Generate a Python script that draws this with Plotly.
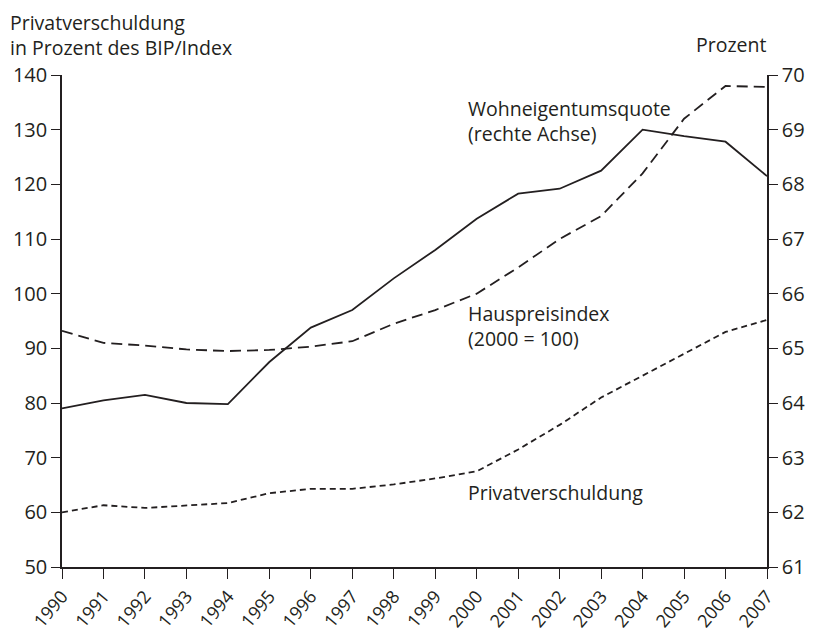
import plotly.graph_objects as go

years = list(range(1990, 2008))
wohneigentumsquote = [63.9, 64.05, 64.15, 64.0, 63.98, 64.75, 65.38, 65.7, 66.28, 66.8,
                      67.37, 67.83, 67.92, 68.25, 69.0, 68.88, 68.78, 68.15]
hauspreisindex = [93.2, 91.0, 90.5, 89.8, 89.5, 89.7, 90.3, 91.3, 94.5, 97.0,
                  100.0, 104.8, 110.0, 114.2, 122.0, 132.0, 138.0, 137.8]
privatverschuldung = [60.0, 61.3, 60.8, 61.2, 61.7, 63.5, 64.3, 64.3, 65.1, 66.2,
                      67.5, 71.5, 76.0, 81.0, 85.0, 89.0, 93.0, 95.2]

left_ticks = list(range(50, 141, 10))
right_ticks = list(range(61, 71))

FONT = "Open Sans, Noto Sans, sans-serif"
ink = "#231f20"
TXT = 19.5
TICK = 20

# page has 8px body margin; plot area target: x 62..767, y 75..567
OFF = 8
W, H = 813 - OFF, 632 - OFF
L, R, T, B = 62 - OFF, 813 - 767, 75 - OFF, 632 - 567
PW, PH = 767 - 62, 567 - 75

fig = go.Figure()
fig.add_trace(go.Scatter(x=years, y=hauspreisindex, mode="lines",
                         line=dict(color=ink, width=1.8, dash="11px,6px"), yaxis="y"))
fig.add_trace(go.Scatter(x=years, y=privatverschuldung, mode="lines",
                         line=dict(color=ink, width=1.8, dash="6px,4px"), yaxis="y"))
fig.add_trace(go.Scatter(x=years, y=wohneigentumsquote, mode="lines",
                         line=dict(color=ink, width=1.8), yaxis="y2"))

fig.update_layout(
    width=W, height=H,
    margin=dict(l=L, r=R, t=T, b=B, pad=0, autoexpand=False),
    paper_bgcolor="white", plot_bgcolor="white",
    showlegend=False,
    font=dict(family=FONT, size=TXT, color=ink),
    xaxis=dict(range=[1990, 2007], tickvals=years, ticktext=[str(y) for y in years],
               tickangle=-50, ticks="outside", ticklen=10, tickcolor=ink, tickwidth=1.2,
               showline=True, linecolor=ink, linewidth=1.5, showgrid=False, zeroline=False,
               tickfont=dict(size=18), automargin=False),
    yaxis=dict(range=[50, 140], tickvals=left_ticks, ticks="outside", ticklen=9,
               tickcolor=ink, tickwidth=1.2, showline=True, linecolor=ink, linewidth=1.5,
               showgrid=False, zeroline=False, tickfont=dict(size=TICK), automargin=False),
    yaxis2=dict(range=[61, 70], tickvals=right_ticks, overlaying="y", side="right",
                ticks="outside", ticklen=9, tickcolor=ink, tickwidth=1.2, showline=True,
                linecolor=ink, linewidth=1.5, showgrid=False, zeroline=False,
                tickfont=dict(size=TICK), automargin=False),
)

def px_x(x):
    return (x - 62) / PW

def px_y(y):
    return (567 - y) / PH

fig.add_annotation(x=px_x(9), xref="paper", y=px_y(35), yref="paper",
                   yanchor="middle", xanchor="left", align="left",
                   text="Privatverschuldung<br>in Prozent des BIP/Index", showarrow=False,
                   borderpad=0, font=dict(size=TXT, family=FONT, color=ink))
fig.add_annotation(x=px_x(768), xref="paper", y=px_y(45), yref="paper",
                   yanchor="middle", xanchor="right", text="Prozent", showarrow=False,
                   font=dict(size=TXT, family=FONT, color=ink))

labels = [
    (1999.74, 131.6, "Wohneigentumsquote<br>(rechte Achse)"),
    (1999.74, 94.1, "Hauspreisindex<br>(2000 = 100)"),
    (1999.74, 63.6, "Privatverschuldung"),
]
for x, y, t in labels:
    fig.add_annotation(x=x, y=y, xref="x", yref="y", text=t, showarrow=False,
                       xanchor="left", yanchor="middle", align="left",
                       font=dict(size=TXT, family=FONT, color=ink))

fig.write_html("out.html")
